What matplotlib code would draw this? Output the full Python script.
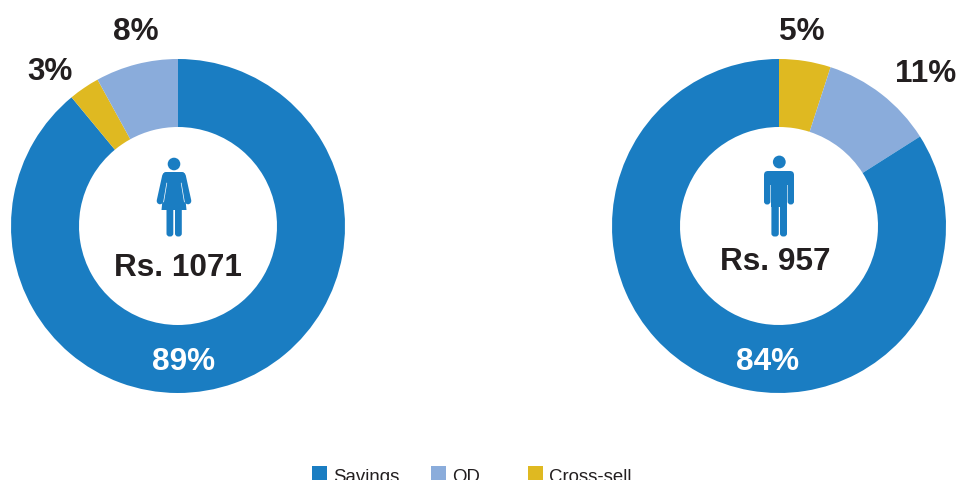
#!/usr/bin/env python3
"""Two donut charts: product share by gender, with the average in the hole."""

import matplotlib
matplotlib.use("Agg")
import matplotlib.pyplot as plt
from matplotlib.patches import Circle, FancyBboxPatch, Polygon, Rectangle

W, H = 960, 481

categories = ["Savings", "OD", "Cross-sell"]
female_share = [89, 8, 3]
male_share = [84, 11, 5]
female_avg = "Rs. 1071"
male_avg = "Rs. 957"

C_SAVINGS = "#1a7dc2"
C_OD = "#8aacdb"
C_CROSS = "#dfb921"
C_TEXT = "#231f20"
COLORS = dict(zip(categories, [C_SAVINGS, C_OD, C_CROSS]))

plt.rcParams["font.family"] = ["Liberation Sans", "DejaVu Sans"]


def py(y):
    """Image-style y (down from the top) to axes y."""
    return H - y


def donut(ax, cx, cy, shares, order):
    values = [shares[categories.index(c)] for c in order]
    ax.pie(values, colors=[COLORS[c] for c in order], startangle=90,
           counterclock=False, center=(cx, py(cy)), radius=167,
           wedgeprops=dict(width=68, linewidth=0))


def rounded(ax, x0, y0, x1, y1, r):
    ax.add_patch(FancyBboxPatch((x0 + r, py(y1) + r), x1 - x0 - 2 * r, y1 - y0 - 2 * r,
                                boxstyle=f"round,pad={r}", fc=C_SAVINGS, ec="none"))


def stroke(ax, x0, y0, x1, y1, lw, color=C_SAVINGS):
    ax.plot([x0, x1], [py(y0), py(y1)], color=color, lw=lw, solid_capstyle="round")


def woman(ax):
    ax.add_patch(Circle((174, py(165)), 6.3, fc=C_SAVINGS, ec="none"))
    # shoulders and dress
    rounded(ax, 163, 173, 185, 182, 3)
    ax.add_patch(Polygon([(165, py(176)), (183, py(176)), (186.5, py(211)),
                          (161.5, py(211))], fc=C_SAVINGS, ec="none"))
    # arms
    stroke(ax, 165.5, 177, 160, 202, 4.8)
    stroke(ax, 182.5, 177, 188, 202, 4.8)
    # slits between arms and dress
    stroke(ax, 166.8, 184, 163.6, 203, 0.5, "white")
    stroke(ax, 181.2, 184, 184.4, 203, 0.5, "white")
    # legs
    rounded(ax, 166.5, 208, 173.3, 237.5, 3)
    rounded(ax, 175, 208, 181.8, 237.5, 3)


def man(ax):
    ax.add_patch(Circle((779.3, py(163)), 6.4, fc=C_SAVINGS, ec="none"))
    rounded(ax, 764, 172, 794, 186, 4)
    rounded(ax, 764, 176, 770.4, 205.5, 3)
    rounded(ax, 787.6, 176, 794, 205.5, 3)
    ax.add_patch(Rectangle((771.4, py(208)), 15.6, 36, fc=C_SAVINGS, ec="none"))
    rounded(ax, 771.4, 200, 778.8, 237.5, 3)
    rounded(ax, 780, 200, 787, 237.5, 3)


def label(ax, x, y, s, color=C_TEXT):
    ax.text(x, py(y - 1), s, fontsize=22.7, fontweight="bold", color=color,
            ha="center", va="center_baseline")


fig = plt.figure(figsize=(W / 100, H / 100), dpi=100)
ax = fig.add_axes([0, 0, 1, 1])

donut(ax, 178, 227, female_share, ["Savings", "Cross-sell", "OD"])
donut(ax, 779, 227, male_share, ["Cross-sell", "OD", "Savings"])

woman(ax)
man(ax)

label(ax, 178, 265, female_avg)
label(ax, 775, 259, male_avg)

label(ax, 184, 360, f"{female_share[0]}%", "white")
label(ax, 136, 30, f"{female_share[1]}%")
label(ax, 50, 70, f"{female_share[2]}%")
label(ax, 768, 360, f"{male_share[0]}%", "white")
label(ax, 926, 71, f"{male_share[1]}%")
label(ax, 802, 30, f"{male_share[2]}%")

# legend runs off the bottom edge, as in the source picture
for name, x in zip(categories, [312, 431, 528]):
    ax.add_patch(Rectangle((x, py(482)), 15, 15, fc=COLORS[name], ec="none"))
    ax.text(x + 21, py(482), name, fontsize=13.4, color=C_TEXT, ha="left", va="baseline")

ax.set_xlim(0, W)
ax.set_ylim(0, H)
ax.set_aspect("auto")
ax.axis("off")

fig.savefig("out.png", dpi=100)
plt.close(fig)
